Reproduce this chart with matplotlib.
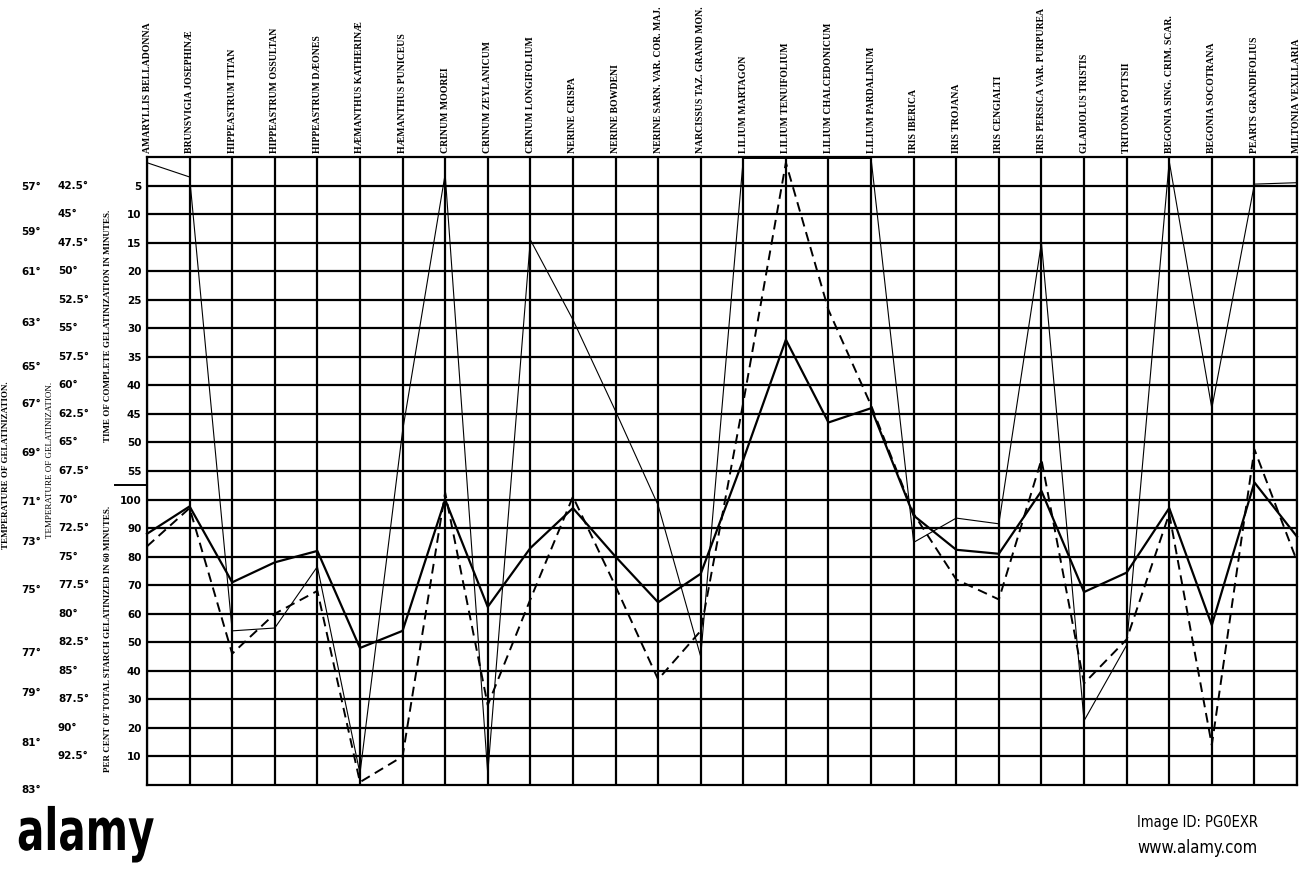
import matplotlib.pyplot as plt
from matplotlib.textpath import TextPath
from matplotlib.patches import PathPatch
from matplotlib.font_manager import FontProperties
from matplotlib.transforms import Affine2D

species = [
    "AMARYLLIS BELLADONNA", "BRUNSVIGIA JOSEPHINÆ", "HIPPEASTRUM TITAN",
    "HIPPEASTRUM OSSULTAN", "HIPPEASTRUM DÆONES", "HÆMANTHUS KATHERINÆ",
    "HÆMANTHUS PUNICEUS", "CRINUM MOOREI", "CRINUM ZEYLANICUM",
    "CRINUM LONGIFOLIUM", "NERINE CRISPA", "NERINE BOWDENI",
    "NERINE SARN. VAR. COR. MAJ.", "NARCISSUS TAZ. GRAND MON.",
    "LILIUM MARTAGON", "LILIUM TENUIFOLIUM", "LILIUM CHALCEDONICUM",
    "LILIUM PARDALINUM", "IRIS IBERICA", "IRIS TROJANA", "IRIS CENGIALTI",
    "IRIS PERSICA VAR. PURPUREA", "GLADIOLUS TRISTIS", "TRITONIA POTTSII",
    "BEGONIA SING. CRIM. SCAR.", "BEGONIA SOCOTRANA", "PEARTS GRANDIFOLIUS",
    "MILTONIA VEXILLARIA",
]

# thin line: minutes to complete gelatinization, or (when not complete)
# per cent of starch gelatinized in 60 minutes
thin_minutes = [1, 3.5, None, None, None, None, 48, 3, None, 14.5, 28.5, 44.5,
                None, None, 0.25, 0.25, 0.25, 0.25, None, None, None, 15,
                None, None, 0.75, 44, 4.75, 4.5]
thin_percent = [None, None, 54, 55, 76.5, 4, None, None, 4, None, None, None,
                98, 45, None, None, None, None, 85, 93.5, 91.5, None,
                22.5, 49, None, None, None, None]

# heavy solid and dashed lines, read on the 42.5° - 92.5° scale
solid_temp = [73.0, 70.6, 77.25, 75.5, 74.5, 83.0, 81.5, 70.0, 79.4, 74.25,
              70.75, 75.0, 79.0, 76.5, 66.5, 56.0, 63.25, 62.0, 71.4, 74.4,
              74.75, 69.25, 78.1, 76.4, 70.75, 81.0, 68.5, 73.25]
dashed_temp = [74.1, 70.75, 83.5, 80.0, 78.0, 94.75, 92.5, 69.4, 88.0, 78.75,
               69.75, 77.6, 85.75, 81.5, 61.5, 40.5, 53.4, 61.75, 71.25, 77.0,
               78.75, 66.5, 86.1, 82.25, 71.25, 91.5, 65.6, 75.4]

minute_ticks = [5, 10, 15, 20, 25, 30, 35, 40, 45, 50, 55]
percent_ticks = [100, 90, 80, 70, 60, 50, 40, 30, 20, 10]
inner_temps = [42.5, 45, 47.5, 50, 52.5, 55, 57.5, 60, 62.5, 65, 67.5, 70,
               72.5, 75, 77.5, 80, 82.5, 85, 87.5, 90, 92.5]
inner_labels = ["42.5°", "45°", "47.5°", "50°", "52.5°", "55°", "57.5°", "60°",
                "62.5°", "65°", "67.5°", "70°", "72.5°", "75°", "77.5°", "80°",
                "82.5°", "85°", "87.5°", "90°", "92.5°"]
outer_labels = ["57°", "59°", "61°", "63°", "65°", "67°", "69°", "71°", "73°",
                "75°", "77°", "79°", "81°", "83°"]
# where the outer scale marks sit, on the 42.5° - 92.5° scale
outer_at = [42.6, 46.6, 50.1, 54.5, 58.4, 61.6, 65.9, 70.2, 73.7, 77.9,
            83.4, 86.9, 91.3, 95.4]


def minute_row(m):
    return m / 5.0


def percent_row(p):
    return 12 + (100 - p) / 10.0


def temp_row(t):
    return (t - 40) / 2.5


x = list(range(len(species)))
thin_rows = [minute_row(m) if m is not None else percent_row(p)
             for m, p in zip(thin_minutes, thin_percent)]
solid_rows = [temp_row(t) for t in solid_temp]
dashed_rows = [temp_row(t) for t in dashed_temp]

fig = plt.figure(figsize=(13, 8.8), dpi=100)
fig.patch.set_facecolor("white")
ax = fig.add_axes([147 / 1300, 1 - 785 / 880, 1150 / 1300, 628 / 880])
ax.set_xlim(0, len(species) - 1)
ax.set_ylim(22, 0)

serif = ["Liberation Serif", "DejaVu Serif"]
sans = ["DejaVu Sans"]

ax.xaxis.tick_top()
ax.set_xticks(x)
ax.set_xticklabels(species, rotation=90, fontsize=7, fontweight="bold",
                   family=serif, va="bottom", ha="center")

yt = [minute_row(m) for m in minute_ticks] + [percent_row(p) for p in percent_ticks]
yl = [str(m) for m in minute_ticks] + [str(p) for p in percent_ticks]
ax.set_yticks(yt)
ax.set_yticklabels(yl, fontsize=7.5, fontweight="bold", family=sans)
ax.tick_params(length=0)
ax.tick_params(axis="x", pad=3)
ax.tick_params(axis="y", pad=4)

ax.grid(True, color="black", lw=1.6)
ax.set_axisbelow(True)
for s in ax.spines.values():
    s.set_linewidth(1.6)
    s.set_color("black")

ax.plot(x, solid_rows, color="black", lw=1.6, clip_on=False, zorder=3)
ax.plot(x, dashed_rows, color="black", lw=1.4, ls=(0, (5, 3)), clip_on=False, zorder=3)
ax.plot(x, thin_rows, color="black", lw=0.8, clip_on=False, zorder=3)

# left-hand scales and titles
ty = ax.get_yaxis_transform()
px = lambda p: (p - 147) / 1150.0  # figure pixel -> axes x fraction

for t, lab in zip(inner_temps, inner_labels):
    ax.text(px(58), temp_row(t), lab, transform=ty, ha="left", va="center",
            fontsize=7.5, fontweight="bold", family=sans)
for t, lab in zip(outer_at, outer_labels):
    ax.text(px(31), temp_row(t), lab, transform=ty, ha="center", va="center",
            fontsize=7.5, fontweight="bold", family=sans)

ax.text(px(6), 10.8, "TEMPERATURE OF GELATINIZATION.", transform=ty,
        rotation=90, ha="center", va="center", fontsize=6.5,
        fontweight="bold", family=serif)
ax.text(px(50), 10.6, "TEMPERATURE OF GELATINIZATION.", transform=ty,
        rotation=90, ha="center", va="center", fontsize=6.5, family=serif)
ax.text(px(108), 5.9, "TIME OF COMPLETE GELATINIZATION IN MINUTES.",
        transform=ty, rotation=90, ha="center", va="center", fontsize=6.5,
        fontweight="bold", family=serif)
ax.text(px(108), 16.9, "PER CENT OF TOTAL STARCH GELATINIZED IN 60 MINUTES.",
        transform=ty, rotation=90, ha="center", va="center", fontsize=6.5,
        fontweight="bold", family=serif)
ax.plot([px(115), 0], [11.5, 11.5], transform=ty, color="black", lw=1.4,
        clip_on=False)

# stock-photo banner: a condensed "alamy" drawn as a path, placed in pixels
logo = TextPath((0, 0), "alamy", size=58,
                prop=FontProperties(family="DejaVu Sans", weight="bold"))
logo_tr = (Affine2D().scale(0.7, 1.0).translate(17, 880 - 850)
           + Affine2D().scale(1 / 1300, 1 / 880) + fig.transFigure)
fig.add_artist(PathPatch(logo, transform=logo_tr, facecolor="black",
                         edgecolor="none"))
fig.text(1258 / 1300, 1 - 822 / 880, "Image ID: PG0EXR", fontsize=10.5,
         family=sans, ha="right", va="center", fontstretch="condensed")
fig.text(1258 / 1300, 1 - 848 / 880, "www.alamy.com", fontsize=12,
         family=sans, ha="right", va="center", fontstretch="condensed")

fig.savefig("out.png", dpi=100, facecolor="white")
